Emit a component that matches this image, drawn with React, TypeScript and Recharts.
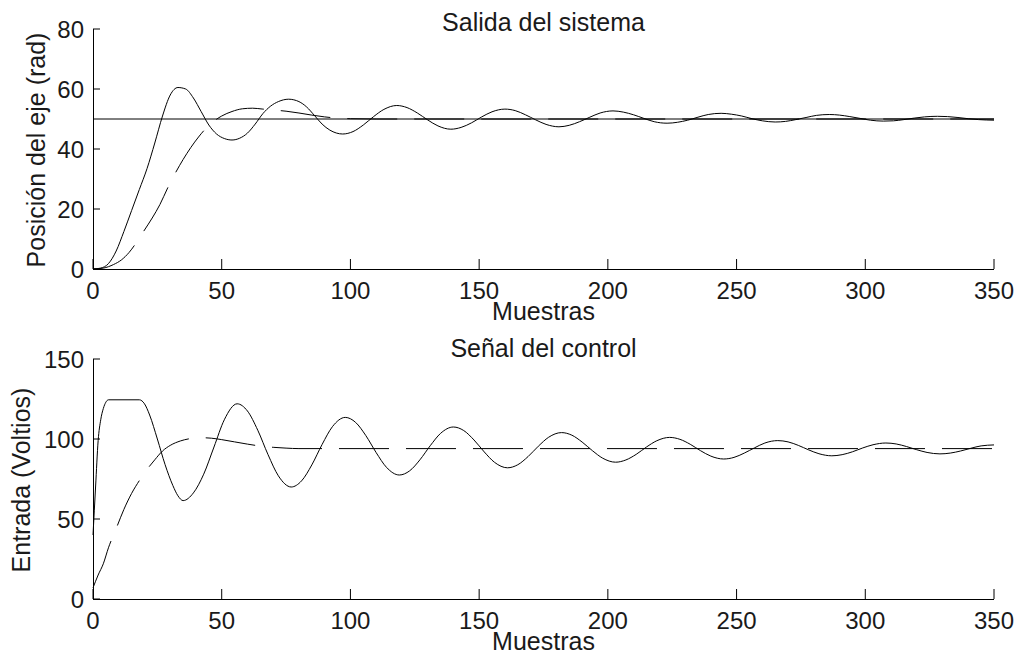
import { LineChart, Line, XAxis, YAxis, ReferenceLine, Label } from 'recharts';

// eje x común (muestras)
const xTicks = [0, 50, 100, 150, 200, 250, 300, 350];
const posTicks = [0, 20, 40, 60, 80];
const voltTicks = [0, 50, 100, 150];
const setpoint = 50;

// salida real del sistema (continua)
const outX = [0, 3, 6, 9, 12, 15, 18, 21, 24, 27, 30, 33, 36, 39, 42, 45, 48, 51, 54, 57,
  60, 63, 66, 69, 72, 76, 80, 83, 86, 89, 92, 97, 101, 105, 109, 113, 118, 122, 126, 130,
  134, 139, 143, 147, 151, 155, 160, 164, 168, 172, 176, 181, 185, 189, 193, 197, 202, 206, 210, 214,
  218, 223, 227, 231, 235, 239, 244, 248, 252, 256, 260, 265, 269, 273, 277, 281, 286, 290, 294, 298,
  302, 307, 311, 315, 319, 323, 328, 332, 336, 340, 344, 350];
const outY = [0, 0.3, 1.8, 6, 12.5, 19.5, 26.5, 33.5, 42, 51, 58, 60.5, 60, 57, 52.5, 48, 45, 43.5, 43, 43.6,
  45.3, 48.3, 51.8, 54.3, 55.8, 56.6, 55.8, 54, 51.2, 48.3, 46.3, 45, 45.8, 48, 50.8, 53.2, 54.5, 53.8, 52, 49.7,
  47.7, 46.6, 47.2, 48.7, 50.7, 52.4, 53.3, 52.8, 51.4, 49.7, 48.2, 47.4, 47.9, 49.1, 50.6, 52, 52.7, 52.3, 51.4, 50.2,
  49.1, 48.6, 48.9, 49.6, 50.6, 51.5, 51.9, 51.6, 51, 50.1, 49.4, 49, 49.2, 49.8, 50.5, 51.2, 51.5, 51.3, 50.8, 50.2,
  49.6, 49.3, 49.4, 49.8, 50.3, 50.7, 50.9, 50.8, 50.5, 50.1, 49.8, 49.6];

// salida del modelo de referencia (discontinua)
const modelX = [0, 4, 8, 11, 14, 17, 20, 23, 26, 29, 32, 35, 38, 41, 44, 47, 50, 54, 58, 62,
  66, 70, 75, 80, 85, 90, 95, 100, 110, 350];
const modelY = [0, 0.3, 1.5, 3, 5.5, 9, 13, 17, 21.5, 27, 32, 36.5, 40.5, 44, 47, 49.3, 51, 52.5, 53.4, 53.6,
  53.3, 53, 52.6, 52, 51.3, 50.7, 50.3, 50.1, 50, 50];

// señal de control aplicada (continua)
const ctrlX = [0, 1, 2, 3, 4, 5, 6, 18, 20, 22, 25, 28, 31, 33, 35, 39, 43, 47, 51, 56,
  60, 64, 68, 72, 77, 81, 85, 89, 93, 98, 102, 106, 110, 114, 119, 123, 127, 131, 135, 140,
  144, 148, 152, 156, 161, 165, 169, 173, 177, 182, 186, 190, 194, 198, 203, 207, 211, 215, 219, 224,
  228, 232, 236, 240, 245, 249, 253, 257, 261, 266, 270, 274, 278, 282, 287, 291, 295, 299, 303, 308,
  312, 316, 320, 324, 329, 333, 337, 341, 345, 350];
const ctrlY = [40, 70, 99, 112, 119, 123, 124.5, 124.5, 122, 115, 100, 84, 71, 64.5, 61.5, 66.3, 78, 95, 112, 122,
  117.5, 105.5, 90.2, 77, 70, 73.8, 83.8, 96.6, 107.7, 113.5, 110.4, 102.1, 91.5, 82.3, 77.5, 80.1, 87, 95.8, 103.5, 107.5,
  105.3, 99.4, 91.9, 85.4, 82, 83.9, 89, 95.5, 101.1, 104, 102.4, 98.1, 92.7, 88, 85.5, 86.9, 90.4, 95, 98.9, 101,
  99.8, 96.7, 92.7, 89.3, 87.5, 88.5, 91.2, 94.5, 97.5, 99, 98.2, 96, 93.2, 90.8, 89.5, 90.2, 92, 94.4, 96.4, 97.5,
  96.9, 95.3, 93.3, 91.6, 90.7, 91.2, 92.5, 94.2, 95.7, 96.3];

// señal de control del modelo (discontinua)
const ctrlModelX = [0, 2, 4, 6, 9, 12, 15, 18, 21, 24, 27, 30, 34, 38, 42, 46, 50, 55, 60, 65, 70, 75, 80, 350];
const ctrlModelY = [7, 15, 22, 32, 44, 56, 66, 74, 81, 87, 92.5, 96, 98.8, 100.3, 100.8, 100.5, 99.6, 98.2, 96.8, 95.6,
  94.8, 94.3, 94, 94];

const W = 1021;
const H = 327;
const FONT = '"Liberation Sans", Arial, Helvetica, sans-serif';
const INK = '#1a1a1a';

const toPoints = (xs: number[], ys: number[]) => xs.map((x, i) => ({ x, y: ys[i] }));

const XTick = ({ x, y, payload }: any) => (
  <g>
    <line x1={x} x2={x} y1={y} y2={y - 10} stroke="#000" />
    <text x={x} y={y + 30} textAnchor="middle" fontSize={24} fill={INK} fontFamily={FONT}>{payload.value}</text>
  </g>
);

const YTick = ({ x, y, payload }: any) => (
  <g>
    <line x1={x + 9} x2={x + 16} y1={y} y2={y} stroke="#000" />
    <text x={x} y={y + 8.5} textAnchor="end" fontSize={24} fill={INK} fontFamily={FONT}>{payload.value}</text>
  </g>
);

type Series = { xs: number[]; ys: number[]; dashed?: boolean };

function Panel({ top, title, titleY, yLabel, yLabelX, yTicks, refY, series }: {
  top: number; title: string; titleY: number; yLabel: string; yLabelX: number;
  yTicks: number[]; refY?: number; series: Series[];
}) {
  const axisStyle = { stroke: '#000', shapeRendering: 'crispEdges' } as any;
  return (
    <div style={{ position: 'absolute', left: 0, top, width: W, height: H }}>
      <LineChart width={W} height={H} margin={{ top: 29, right: 27, bottom: 0, left: 0 }}>
        <XAxis type="number" dataKey="x" domain={[0, 350]} ticks={xTicks} interval={0} height={58}
          tickSize={0} tickMargin={0} tickLine={false} tick={<XTick />} axisLine={axisStyle}>
          <Label content={({ viewBox }: any) => (
            <text x={viewBox.x + viewBox.width / 2} y={viewBox.y + 51} textAnchor="middle"
              fontSize={25} fill={INK} fontFamily={FONT}>Muestras</text>
          )} />
          <Label content={({ viewBox }: any) => (
            <text x={viewBox.x + viewBox.width / 2} y={titleY} textAnchor="middle"
              fontSize={25} fill={INK} fontFamily={FONT}>{title}</text>
          )} />
        </XAxis>
        <YAxis type="number" domain={[0, yTicks[yTicks.length - 1]]} ticks={yTicks} interval={0} width={93}
          tickSize={0} tickMargin={9} tickLine={false} tick={<YTick />} axisLine={axisStyle}>
          <Label content={({ viewBox }: any) => {
            const cy = viewBox.y + viewBox.height / 2 + 1;
            return (
              <text x={yLabelX} y={cy} textAnchor="middle" transform={`rotate(-90, ${yLabelX}, ${cy})`}
                fontSize={25} fill={INK} fontFamily={FONT}>{yLabel}</text>
            );
          }} />
        </YAxis>
        {refY !== undefined && <ReferenceLine y={refY} stroke="#000" strokeWidth={1} />}
        {series.map((s, i) => (
          <Line key={i} data={toPoints(s.xs, s.ys)} dataKey="y" type="monotone" stroke="#000" strokeWidth={1}
            strokeDasharray={s.dashed ? '50 17' : undefined} dot={false} activeDot={false} isAnimationActive={false} />
        ))}
      </LineChart>
    </div>
  );
}

export default function App() {
  return (
    <div style={{ position: 'absolute', left: 0, top: 0, width: W, height: 654, background: '#fff' }}>
      <Panel top={0} title="Salida del sistema" titleY={31} yLabel="Posición del eje (rad)" yLabelX={44.5}
        yTicks={posTicks} refY={setpoint}
        series={[{ xs: modelX, ys: modelY, dashed: true }, { xs: outX, ys: outY }]} />
      <Panel top={330} title="Señal del control" titleY={27} yLabel="Entrada (Voltios)" yLabelX={30}
        yTicks={voltTicks}
        series={[{ xs: ctrlModelX, ys: ctrlModelY, dashed: true }, { xs: ctrlX, ys: ctrlY }]} />
    </div>
  );
}
